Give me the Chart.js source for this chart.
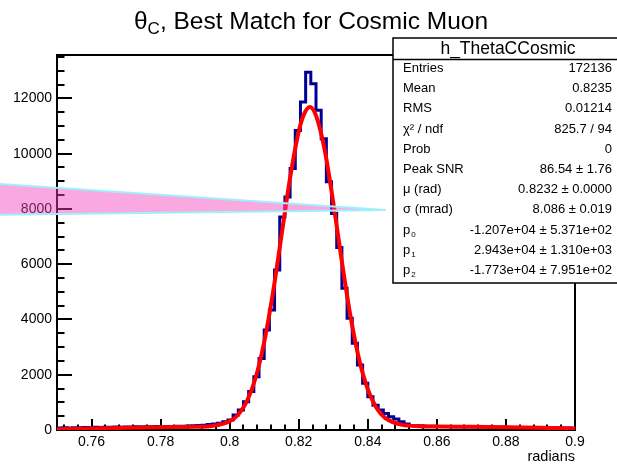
<!DOCTYPE html>
<html>
<head>
<meta charset="utf-8">
<title>h_ThetaCCosmic</title>
<script src="https://cdn.jsdelivr.net/npm/chart.js@4.4.1/dist/chart.umd.min.js"></script>
<style>
  html, body { margin: 0; padding: 0; background: #fff; }
  canvas { display: block; }
</style>
</head>
<body>
<canvas id="c" width="617" height="465"></canvas>
<script>
// theta_C histogram, 100 bins from 0.75 to 0.9 rad
var binLo = 0.75;
var binHi = 0.9;
var counts = [
  70, 80, 75, 85, 80, 90, 85, 95, 90, 100,
  95, 105, 100, 110, 105, 115, 110, 120, 115, 125,
  120, 130, 125, 135, 140, 145, 150, 160, 175, 195,
  220, 240, 300, 360, 540, 720, 1020, 1390, 1930, 2590,
  3620, 4340, 5790, 7710, 8430, 9460, 10840, 11870, 12950, 12530,
  11570, 10540, 8980, 7830, 6600, 5130, 4040, 3140, 2350, 1690,
  1200, 900, 720, 600, 480, 400, 300, 220, 160, 150,
  145, 140, 135, 130, 130, 125, 120, 120, 115, 110,
  110, 105, 105, 100, 100, 95, 95, 90, 90, 85,
  85, 80, 80, 80, 75, 75, 70, 70, 70, 65
];

// gaus + pol2 fit
var fitX = [0.75, 0.76, 0.77, 0.78, 0.79, 0.795, 0.80, 0.8025, 0.805, 0.8075,
  0.81, 0.8125, 0.815, 0.8175, 0.82, 0.8215, 0.8232, 0.825, 0.8275, 0.83,
  0.8325, 0.835, 0.8375, 0.84, 0.8425, 0.845, 0.85, 0.855, 0.86, 0.87,
  0.88, 0.89, 0.90];
var fitY = [30, 56, 79, 99, 117, 147, 315, 563, 1047, 1882,
  3180, 4940, 7030, 9125, 10800, 11420, 11690, 11380, 10145, 8230,
  6090, 4110, 2550, 1470, 805, 440, 184, 138, 127, 114,
  98, 79, 56];

// pointer wedge laid over the plot
var wedgeX = [0.73, 0.8452, 0.73];
var wedgeY = [8930, 7960, 7780];

var xTicks = [0.76, 0.78, 0.8, 0.82, 0.84, 0.86, 0.88, 0.9];
var xTickLabels = ['0.76', '0.78', '0.8', '0.82', '0.84', '0.86', '0.88', '0.9'];
var yTicks = [0, 2000, 4000, 6000, 8000, 10000, 12000];
var yTickLabels = ['0', '2000', '4000', '6000', '8000', '10000', '12000'];
var yMax = 13570;

var statLabels = ['Entries', 'Mean', 'RMS', 'χ² / ndf', 'Prob', 'Peak SNR', 'μ (rad)', 'σ (mrad)', 'p|0', 'p|1', 'p|2'];
var statValues = ['172136', '0.8235', '0.01214', '825.7 / 94', '0', '86.54 ± 1.76', '0.8232 ± 0.0000',
  '8.086 ± 0.019', '-1.207e+04 ± 5.371e+02', '2.943e+04 ± 1.310e+03', '-1.773e+04 ± 7.951e+02'];

var FONT = '"Liberation Sans", Arial, Helvetica, sans-serif';

var binW = (binHi - binLo) / counts.length;
var histPts = [];
counts.forEach(function(v, k) {
  histPts.push({x: binLo + k * binW, y: v});
  histPts.push({x: binLo + (k + 1) * binW, y: v});
});
var fitPts = fitX.map(function(x, i) { return {x: x, y: fitY[i]}; });
var wedgePts = wedgeX.map(function(x, i) { return {x: x, y: wedgeY[i]}; });
wedgePts.push(wedgePts[0]);

// ROOT style ticks pointing into the frame, plus the frame itself
var frameTicks = {
  id: 'frameTicks',
  beforeDatasetsDraw: function(chart) {
    var ctx = chart.ctx, a = chart.chartArea, x = chart.scales.x, y = chart.scales.y;
    ctx.save();
    ctx.strokeStyle = '#000';
    ctx.lineWidth = 2;
    ctx.beginPath();
    for (var v = 0; v <= yMax; v += 500) {
      var py = Math.round(y.getPixelForValue(v));
      ctx.moveTo(a.left, py);
      ctx.lineTo(a.left + (v % 2000 === 0 ? 15 : 7.5), py);
    }
    for (var i = 0; i <= 37; i++) {
      var xv = 0.752 + i * 0.004;
      var px = Math.round(x.getPixelForValue(xv));
      var major = Math.abs((xv - 0.76) / 0.02 - Math.round((xv - 0.76) / 0.02)) < 1e-6;
      ctx.moveTo(px, a.bottom);
      ctx.lineTo(px, a.bottom - (major ? 11 : 5.5));
    }
    ctx.moveTo(a.left, a.top);
    ctx.lineTo(a.right, a.top);
    ctx.lineTo(a.right, a.bottom);
    ctx.stroke();
    ctx.restore();
  }
};

// fill of the wedge, drawn from its own points without the chart area clip
var wedgeFill = {
  id: 'wedgeFill',
  beforeDatasetDraw: function(chart, args) {
    if (args.index !== 2) return;
    var pts = args.meta.data, ctx = chart.ctx;
    ctx.save();
    ctx.fillStyle = 'rgba(242, 62, 186, 0.45)';
    ctx.beginPath();
    pts.forEach(function(p, i) { if (i === 0) ctx.moveTo(p.x, p.y); else ctx.lineTo(p.x, p.y); });
    ctx.closePath();
    ctx.fill();
    ctx.restore();
  }
};

function drawSub(ctx, text, x, y, size) {
  // "p|0" -> p with a small subscript
  var parts = text.split('|');
  ctx.font = size + 'px ' + FONT;
  ctx.fillText(parts[0], x, y);
  if (parts.length > 1) {
    var w = ctx.measureText(parts[0]).width;
    ctx.font = Math.round(size * 0.62) + 'px ' + FONT;
    ctx.fillText(parts[1], x + w + 1, y + size * 0.35);
  }
}

var labels = {
  id: 'labels',
  afterDraw: function(chart) {
    var ctx = chart.ctx, a = chart.chartArea;
    ctx.save();
    ctx.fillStyle = '#000';

    // title
    ctx.textBaseline = 'alphabetic';
    ctx.textAlign = 'left';
    var tSize = 24.5;
    ctx.font = tSize + 'px ' + FONT;
    var rest = ', Best Match for Cosmic Muon';
    var wTheta = ctx.measureText('θ').width;
    var wRest = ctx.measureText(rest).width;
    ctx.font = Math.round(tSize * 0.7) + 'px ' + FONT;
    var wC = ctx.measureText('C').width;
    var tx = 311 - (wTheta + wC + wRest) / 2, ty = 29;
    ctx.font = tSize + 'px ' + FONT;
    ctx.fillText('θ', tx, ty);
    ctx.font = Math.round(tSize * 0.7) + 'px ' + FONT;
    ctx.fillText('C', tx + wTheta, ty + 5);
    ctx.font = tSize + 'px ' + FONT;
    ctx.fillText(rest, tx + wTheta + wC, ty);

    // axis title
    ctx.font = '14.5px ' + FONT;
    ctx.textAlign = 'right';
    ctx.fillText('radians', a.right, 461);

    // stats box
    var bx = 393, by = 38, bw = 230, bh = 245;
    ctx.fillStyle = '#fff';
    ctx.fillRect(bx, by, bw, bh);
    ctx.strokeStyle = '#000';
    ctx.lineWidth = 1.5;
    ctx.strokeRect(bx, by, bw, bh);
    ctx.beginPath();
    ctx.moveTo(bx, 59.5);
    ctx.lineTo(bx + bw, 59.5);
    ctx.stroke();
    ctx.fillStyle = '#000';
    ctx.textBaseline = 'middle';
    ctx.textAlign = 'center';
    ctx.font = '17.5px ' + FONT;
    ctx.fillText('h_ThetaCCosmic', 508, 49);
    for (var i = 0; i < statLabels.length; i++) {
      var ry = 68.5 + i * 20.2;
      ctx.textAlign = 'left';
      drawSub(ctx, statLabels[i], 403, ry, 13);
      ctx.textAlign = 'right';
      ctx.font = '13px ' + FONT;
      ctx.fillText(statValues[i], 612, ry);
    }
    ctx.restore();
  }
};

var tickFont = {family: FONT, size: 14};

new Chart(document.getElementById('c'), {
  type: 'line',
  data: {
    datasets: [
      {data: histPts, borderColor: '#000099', borderWidth: 3, pointRadius: 0, tension: 0, order: 2},
      {data: fitPts, borderColor: '#ff0000', borderWidth: 4, pointRadius: 0, cubicInterpolationMode: 'monotone', order: 1},
      {data: wedgePts, borderColor: '#9ff0fb', borderWidth: 2, pointRadius: 0, tension: 0, clip: false, order: 0}
    ]
  },
  options: {
    responsive: false,
    animation: false,
    devicePixelRatio: 1,
    layout: {padding: {top: 55, right: 42, left: 0, bottom: 0}},
    plugins: {legend: {display: false}, tooltip: {enabled: false}},
    scales: {
      x: {
        type: 'linear', min: binLo, max: binHi,
        afterBuildTicks: function(s) { s.ticks = xTicks.map(function(v) { return {value: v}; }); },
        afterFit: function(s) { s.height = 35; },
        ticks: {
          callback: function(v, i) { return xTickLabels[i]; },
          font: tickFont, color: '#000', padding: 4, maxRotation: 0, autoSkip: false
        },
        grid: {display: false, drawTicks: false},
        border: {display: true, color: '#000', width: 2}
      },
      y: {
        type: 'linear', min: 0, max: yMax,
        afterBuildTicks: function(s) { s.ticks = yTicks.map(function(v) { return {value: v}; }); },
        afterFit: function(s) { s.width = 57; },
        ticks: {
          callback: function(v, i) { return yTickLabels[i]; },
          font: tickFont, color: '#000', padding: 5, autoSkip: false
        },
        grid: {display: false, drawTicks: false},
        border: {display: true, color: '#000', width: 2}
      }
    }
  },
  plugins: [frameTicks, wedgeFill, labels]
});
</script>
</body>
</html>
